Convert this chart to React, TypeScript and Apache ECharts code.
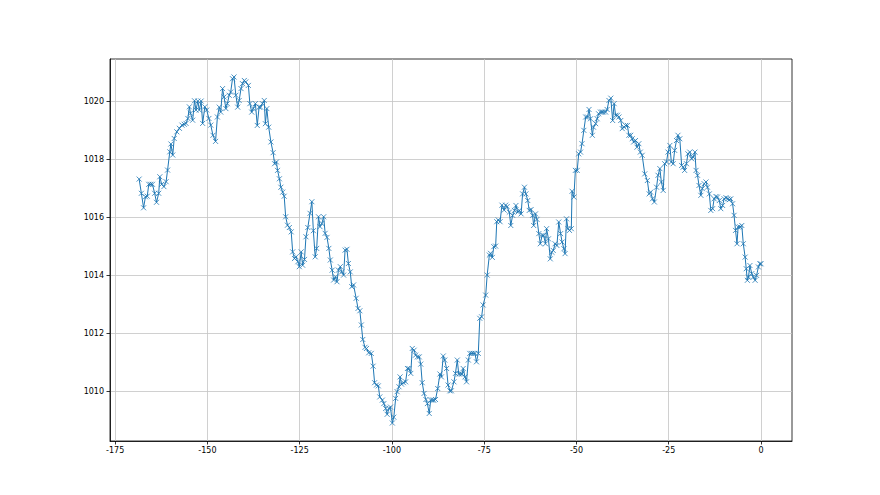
import React, { useEffect, useRef } from "react";
import * as echarts from "echarts";

const hoursAgo: number[] = [
  -168.5, -167.9, -167.3, -166.8, -166.3, -165.9, -165.4, -164.9, -164.3, -163.8,
  -163.2, -162.9, -162.4, -161.8, -161.2, -160.8, -160.2, -159.9, -159.4, -159.0,
  -158.3, -157.6, -156.9, -156.3, -155.8, -155.3, -154.9, -154.6, -154.0, -153.5,
  -153.1, -152.6, -152.2, -151.7, -151.3, -150.7, -150.2, -149.6, -149.1,
  -148.5, -147.8, -147.3, -146.8, -146.4, -145.9, -145.5, -145.0, -144.6, -144.1,
  -143.7, -143.2, -142.8, -142.3, -141.8, -141.4, -140.9, -140.5, -140.0, -139.6,
  -138.9, -138.5, -138.0, -137.6, -137.0, -136.5, -136.0, -135.6, -135.1, -134.6,
  -134.3, -133.9, -133.4, -132.8, -132.2, -131.8, -131.3, -131.0, -130.5, -130.1, -129.6,
  -129.2, -128.8, -128.3, -127.8, -127.3, -126.9, -126.4, -126.0, -125.5, -125.1,
  -124.6, -124.2, -123.7, -123.3, -122.8, -122.2, -121.7, -121.3, -120.8, -120.4,
  -119.9, -119.5, -119.0, -118.5, -118.1, -117.6, -117.1, -116.7, -116.2, -115.8,
  -115.3, -114.9, -114.5, -114.0, -113.6, -113.1, -112.7, -112.2, -111.8, -111.3,
  -110.9, -110.4,
  -109.7, -109.2, -108.7, -108.3, -107.9, -107.3, -106.9, -106.3, -105.6, -105.1,
  -104.7, -104.2, -103.7, -103.3, -102.6, -102.2, -101.7, -101.3, -100.8, -100.4,
  -99.9, -99.5, -99.0, -98.6, -98.1, -97.8, -97.4, -96.9, -96.3, -95.8,
  -95.4, -94.9, -94.5, -94.0, -93.6, -93.1, -92.6, -92.2, -91.8, -91.3,
  -90.8, -90.4, -89.9, -89.5, -89.0,
  -88.7, -88.2, -87.6, -87.0, -86.6, -86.1, -85.7, -85.2, -84.8, -84.3,
  -83.9, -83.2, -82.8, -82.3, -81.9, -81.4, -81.0, -80.7, -80.2, -79.8,
  -79.3, -78.9, -78.4, -78.0, -77.5, -77.1, -76.6, -76.2, -75.7, -75.3,
  -74.6, -74.2, -73.6, -73.3, -72.8, -72.4, -71.9, -71.6, -71.2, -70.7,
  -70.2, -69.6, -69.2, -68.8,
  -68.2, -67.8, -67.3, -66.8, -66.4, -65.9, -65.5, -65.0, -64.6, -64.1,
  -63.7, -63.2, -62.8, -62.3, -61.9, -61.6, -61.1, -60.7, -60.2, -59.8,
  -59.3, -58.9, -58.4, -58.1, -57.6, -57.1, -56.7, -56.3, -55.8, -55.3,
  -54.8, -54.3, -53.9, -53.4, -53.1, -52.7, -52.3, -51.9, -51.4, -51.2,
  -50.7, -50.3, -49.8, -49.4, -48.9, -48.5, -48.0, -47.5,
  -47.0, -46.6, -46.2, -45.7, -45.4, -44.8, -44.4, -44.0, -43.5, -43.1,
  -42.7, -42.1, -41.7, -41.2, -40.7, -40.2, -39.8, -39.4, -38.9, -38.5,
  -38.0, -37.6, -37.1, -36.7, -36.2, -35.8, -35.3, -34.9, -34.5, -34.0,
  -33.6, -33.1, -32.7, -32.2, -31.5, -30.8, -30.3, -29.9, -29.4, -28.9,
  -28.3, -27.9, -27.4, -27.0, -26.5, -26.1, -25.6, -25.2, -24.7, -24.3,
  -23.8, -23.4, -22.9, -22.5, -22.0, -21.5, -21.1, -20.7, -20.2, -19.8,
  -19.3, -18.8, -18.4, -17.9, -17.6, -17.2, -16.8, -16.3, -15.9, -15.4,
  -14.9, -14.5, -14.0, -13.6, -13.1, -12.7, -12.2, -11.8, -11.3, -10.9,
  -10.4, -10.0, -9.5, -9.0, -8.6, -8.2, -7.7, -7.3, -6.9, -6.5,
  -6.2, -5.7, -5.2, -4.8, -4.3, -4.0, -3.7, -3.4, -3.0, -2.5,
  -2.1, -1.6, -1.2, -0.7, -0.3, 0,
];

const pressure: number[] = [
  1017.31, 1016.82, 1016.32, 1016.7, 1016.72, 1017.13, 1017.13, 1017.13, 1016.82, 1016.51,
  1016.82, 1017.39, 1017.13, 1017.05, 1017.22, 1017.62, 1018.25, 1018.52, 1018.14, 1018.71,
  1018.94, 1019.06, 1019.17, 1019.2, 1019.23, 1019.4, 1019.8, 1019.58, 1019.34, 1020.01,
  1019.69, 1020.0, 1019.69, 1020.0, 1019.23, 1019.8, 1019.69, 1019.4, 1019.17,
  1018.82, 1018.61, 1019.45, 1019.79, 1019.62, 1020.43, 1020.14, 1019.74, 1019.91, 1020.2,
  1020.31, 1020.77, 1020.83, 1020.2, 1019.79, 1020.02, 1020.43, 1020.6, 1020.71, 1020.66,
  1020.54, 1019.91, 1019.62, 1019.74, 1019.91, 1019.16, 1019.79, 1019.79, 1019.91, 1020.02,
  1019.22, 1019.74, 1019.1, 1018.59, 1018.22, 1017.84, 1017.9, 1017.61, 1017.32, 1017.03, 1016.86,
  1016.72, 1016.01, 1015.72, 1015.64, 1015.49, 1014.8, 1014.57, 1014.63, 1014.46, 1014.29,
  1014.8, 1014.34, 1014.54, 1015.32, 1015.64, 1016.13, 1016.53, 1015.53, 1014.63, 1014.92,
  1016.01, 1015.67, 1015.78, 1016.01, 1015.44, 1015.3, 1014.92, 1014.52, 1014.17, 1013.83,
  1013.94, 1013.77, 1014.17, 1014.29, 1014.11, 1014.0, 1014.86, 1014.89, 1014.4, 1014.11,
  1013.6, 1013.66,
  1013.2, 1012.85, 1012.77, 1012.28, 1011.78, 1011.51, 1011.47, 1011.32, 1011.3, 1010.86,
  1010.29, 1010.21, 1010.18, 1009.8, 1009.69, 1009.57, 1009.4, 1009.2, 1009.4, 1009.45,
  1008.9, 1009.1, 1009.75, 1009.98, 1010.15, 1010.49, 1010.24, 1010.29, 1010.32, 1010.78,
  1010.78, 1010.61, 1011.47, 1011.41, 1011.24, 1011.18, 1011.18, 1010.93, 1010.29, 1009.92,
  1009.71, 1009.57, 1009.23, 1009.69, 1009.69,
  1009.69, 1009.71, 1010.09, 1010.59, 1010.49, 1011.21, 1011.07, 1010.78, 1010.21, 1010.01,
  1010.01, 1010.32, 1010.61, 1011.07, 1010.59, 1010.59, 1010.59, 1010.78, 1010.49, 1010.32,
  1011.07, 1011.3, 1011.3, 1011.3, 1011.3, 1011.01, 1011.3, 1012.51, 1012.56, 1012.97,
  1013.31, 1014.0, 1014.69, 1014.75, 1014.61, 1014.98, 1015.0, 1015.84, 1015.9, 1015.84,
  1016.41, 1016.24, 1016.41, 1016.36,
  1016.17, 1015.71, 1016.06, 1016.23, 1016.4, 1016.17, 1016.23, 1016.11, 1016.8, 1017.03,
  1016.8, 1016.57, 1016.23, 1016.26, 1016.06, 1015.71, 1016.11, 1015.92, 1015.43, 1015.08,
  1015.37, 1015.37, 1015.08, 1015.6, 1015.25, 1014.56, 1014.79, 1014.85, 1015.08, 1015.02,
  1015.83, 1015.43, 1015.14, 1014.91, 1014.74, 1015.94, 1015.6, 1015.54, 1015.6, 1016.89,
  1016.69, 1017.61, 1017.61, 1018.18, 1018.24, 1018.53, 1018.99, 1019.45,
  1019.45, 1019.71, 1019.39, 1018.82, 1019.1, 1019.22, 1019.39, 1019.56, 1019.62, 1019.62,
  1019.62, 1019.62, 1019.71, 1020.02, 1020.1, 1019.33, 1019.91, 1019.51, 1019.51, 1019.45,
  1019.33, 1019.05, 1019.1, 1019.16, 1019.16, 1018.82, 1018.82, 1018.7, 1018.59, 1018.64,
  1018.41, 1018.53, 1018.24, 1018.13, 1017.49, 1017.26, 1016.8, 1016.86, 1016.63, 1016.52,
  1017.03, 1017.44, 1017.67, 1017.21, 1016.92, 1017.84, 1017.9, 1018.24, 1018.47, 1017.9,
  1017.84, 1018.3, 1018.64, 1018.82, 1018.7, 1017.78, 1017.72, 1017.61, 1017.84, 1018.18,
  1018.24, 1018.01, 1018.07, 1018.24, 1017.61, 1017.44, 1017.09, 1016.75, 1016.98, 1017.15,
  1017.21, 1017.03, 1016.8, 1016.23, 1016.29, 1016.63, 1016.71, 1016.69, 1016.57, 1016.29,
  1016.4, 1016.63, 1016.67, 1016.63, 1016.6, 1016.63, 1016.46, 1016.06, 1015.54, 1015.08,
  1015.66, 1015.66, 1015.71, 1015.08, 1014.62, 1014.22, 1013.82, 1013.93, 1014.33, 1014.05,
  1013.93, 1013.82, 1013.99, 1014.28, 1014.39, 1014.39,
];

const xTicks: number[] = [-175, -150, -125, -100, -75, -50, -25, 0];
const yTicks: number[] = [1010, 1012, 1014, 1016, 1018, 1020];

const X_MIN = -176.4;
const X_MAX = 8.4;
const Y_MIN = 1008.28;
const Y_MAX = 1021.45;

export default function App() {
  const ref = useRef<HTMLDivElement>(null);

  useEffect(() => {
    document.body.style.margin = "0";
    if (!ref.current) return;
    const chart = echarts.init(ref.current, undefined, { renderer: "svg" });
    const data = hoursAgo.map((h, i) => [h, pressure[i]]);
    const labelStyle = {
      color: "#000",
      fontFamily: "DejaVu Sans",
      fontSize: 8,
      formatter: (v: number) => String(v),
    };
    chart.setOption({
      animation: false,
      backgroundColor: "#fff",
      grid: {
        left: 110,
        right: 88,
        top: 59,
        bottom: 54,
        show: true,
        borderColor: "#000",
        borderWidth: 0.8,
        backgroundColor: "transparent",
      },
      xAxis: {
        type: "value",
        min: X_MIN,
        max: X_MAX,
        axisLine: { show: true, onZero: false, lineStyle: { color: "#000", width: 0.8 } },
        axisTick: {
          show: true,
          inside: false,
          length: 3.5,
          customValues: xTicks,
          lineStyle: { color: "#000", width: 0.8 },
        },
        axisLabel: { ...labelStyle, margin: 5, customValues: xTicks },
        splitLine: { show: true, lineStyle: { color: "#c4c4c4", width: 0.8 } },
      },
      yAxis: {
        type: "value",
        min: Y_MIN,
        max: Y_MAX,
        axisLine: { show: true, onZero: false, lineStyle: { color: "#000", width: 0.8 } },
        axisTick: {
          show: true,
          inside: false,
          length: 3.5,
          customValues: yTicks,
          lineStyle: { color: "#000", width: 0.8 },
        },
        axisLabel: { ...labelStyle, margin: 6, customValues: yTicks },
        splitLine: { show: true, lineStyle: { color: "#c4c4c4", width: 0.8 } },
      },
      series: [
        {
          type: "line",
          data,
          showSymbol: true,
          showAllSymbol: true,
          symbol: "path://M0,0L10,10M0,10L10,0",
          symbolSize: 5,
          lineStyle: { color: "#1f77b4", width: 1 },
          itemStyle: { color: "#1f77b4", borderColor: "#1f77b4", borderWidth: 0.8 },
          emphasis: { disabled: true },
        },
      ],
    });
    return () => chart.dispose();
  }, []);

  return <div ref={ref} style={{ width: 880, height: 495 }} />;
}
